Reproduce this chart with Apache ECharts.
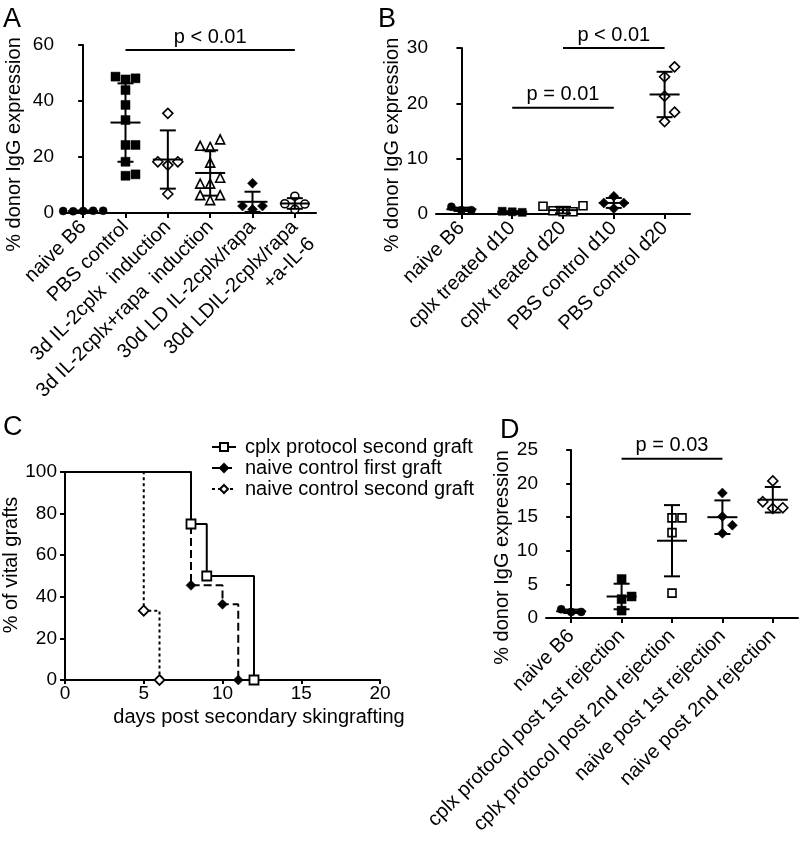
<!DOCTYPE html>
<html><head><meta charset="utf-8">
<script src="https://cdn.jsdelivr.net/npm/echarts@6/dist/echarts.min.js"></script>
<style>html,body{margin:0;padding:0;background:#fff}#chart{width:802px;height:842px}</style>
</head><body><div id="chart"></div>
<script>
// ---------------- Panel A ----------------
const catsA = ['naive B6', 'PBS control', '3d IL-2cplx  induction', '3d IL-2cplx+rapa  induction', '30d LD IL-2cplx/rapa', '30d LDIL-2cplx/rapa\n+a-IL-6'];
const ptsA = [
  [0.7, 0.8, 0.6, 0.8, 0.7],
  [47.7, 48.1, 48.7, 43.9, 38.6, 33.2, 24.3, 24.3, 18.3, 13.3, 13.8],
  [35.6, 17.1, 18.3, 18.3, 6.8],
  [23.6, 26.3, 24.0, 18.0, 10.5, 12.6, 10.5, 4.6, 6.4, 6.4],
  [10.6, 1.3, 2.5, 2.5],
  [6.0, 1.3, 3.2, 3.3]
];
const meanA = [0.7, 32.3, 19.1, 14.3, 4.0, 3.4];
const sdA = [0.2, 14.0, 10.4, 8.1, 3.6, 1.9];
const yTicksA = [0, 20, 40, 60];
const sigA = [{ from: 1, to: 5, y: 58.2, text: 'p < 0.01' }];

// ---------------- Panel B ----------------
const catsB = ['naive B6', 'cplx treated d10', 'cplx treated d20', 'PBS control d10', 'PBS control d20'];
const ptsB = [
  [0.7, 0.7, 1.3],
  [0.4, 0.3, 0.5],
  [0.4, 0.4, 0.6, 1.5, 1.4],
  [3.2, 1.0, 2.0, 2.0],
  [21.3, 24.8, 26.6, 16.7, 18.4]
];
const meanB = [0.85, 0.4, 0.7, 2.0, 21.6];
const sdB = [0.3, 0.1, 0.6, 0.9, 4.1];
const yTicksB = [0, 10, 20, 30];
const sigB = [
  { from: 1, to: 3, y: 19.2, text: 'p = 0.01' },
  { from: 2, to: 4, y: 30.0, text: 'p < 0.01' }
];

// ---------------- Panel C ----------------
const namesC = ['cplx protocol second graft', 'naive control first graft', 'naive control second graft'];
const daysC = [[0, 8, 9, 12], [0, 8, 10, 11], [0, 5, 6]];
const survC = [[100, 75, 50, 0], [100, 45.5, 36.4, 0], [100, 33.3, 0]];
const xTicksC = [0, 5, 10, 15, 20];
const yTicksC = [0, 20, 40, 60, 80, 100];

// ---------------- Panel D ----------------
const catsD = ['naive B6', 'cplx protocol post 1st rejection', 'cplx protocol post 2nd rejection', 'naive post 1st rejection', 'naive post 2nd rejection'];
const ptsD = [
  [0.9, 0.9, 1.3],
  [5.8, 2.8, 1.1, 3.2],
  [14.9, 14.9, 12.7, 3.7],
  [18.6, 15.1, 12.6, 13.8],
  [20.4, 16.3, 16.4, 17.3]
];
const meanD = [1.0, 3.2, 11.5, 15.0, 17.6];
const sdD = [0.25, 1.9, 5.3, 2.5, 1.9];
const yTicksD = [0, 5, 10, 15, 20, 25];
const sigD = [{ from: 1, to: 3, y: 23.7, text: 'p = 0.03' }];

// ---------------- styles ----------------
const FONT = '"Liberation Sans", Arial, Helvetica, sans-serif';
const K = '#000';
const markA = [['circle', 8, true], ['rect', 9, true], ['diamond', 10, false], ['triangle', 9, false], ['diamond', 10, true], ['circle', 8, false]];
const markB = [['circle', 8, true], ['rect', 8, true], ['rect', 8, false], ['diamond', 10, true], ['diamond', 10, false]];
const markD = [['circle', 8, true], ['rect', 9, true], ['rect', 8, false], ['diamond', 10, true], ['diamond', 10, false]];
const markC = [['rect', 9, false], ['diamond', 10, true], ['diamond', 10, false]];
const dashC = ['solid', [8, 4], [3, 3]];

const gridA = { left: 62, top: 45, width: 254, height: 168 };
const gridB = { left: 436, top: 48, width: 254, height: 166 };
const gridC = { left: 65, top: 472, width: 315, height: 208 };
const gridD = { left: 546, top: 450, width: 252, height: 168 };

// beeswarm offsets (in marker steps) derived from values
function beeswarm(vals, pxPerUnit) {
  const placed = [], offs = [];
  const order = [0, 1, -1, 2, -2, 3, -3];
  vals.forEach(v => {
    for (const o of order) {
      if (!placed.some(p => p.o === o && Math.abs(p.v - v) * pxPerUnit < 10.5)) {
        placed.push({ o, v }); offs.push(o); break;
      }
    }
  });
  return offs;
}

const lineSt = { stroke: K, lineWidth: 2 };
function errorBars(params, api) {
  const i = api.value(0), m = api.value(1), s = api.value(2);
  const c = api.coord([i, m]);
  const hi = api.coord([i, m + s]);
  const lo = api.coord([i, Math.max(m - s, 0)]);
  const mw = 15, cw = 8;
  return { type: 'group', children: [
    { type: 'line', shape: { x1: c[0], y1: hi[1], x2: c[0], y2: lo[1] }, style: lineSt },
    { type: 'line', shape: { x1: c[0] - cw, y1: hi[1], x2: c[0] + cw, y2: hi[1] }, style: lineSt },
    { type: 'line', shape: { x1: c[0] - cw, y1: lo[1], x2: c[0] + cw, y2: lo[1] }, style: lineSt },
    { type: 'line', shape: { x1: c[0] - mw, y1: c[1], x2: c[0] + mw, y2: c[1] }, style: lineSt }
  ]};
}
function sigRender(sigs) {
  return function (params, api) {
    const a = api.coord([api.value(0), api.value(2)]);
    const b = api.coord([api.value(1), api.value(2)]);
    return { type: 'group', children: [
      { type: 'line', shape: { x1: a[0], y1: a[1], x2: b[0], y2: b[1] }, style: lineSt },
      { type: 'text', x: (a[0] + b[0]) / 2, y: a[1] - 13,
        style: { text: sigs[params.dataIndex].text, textAlign: 'center', textVerticalAlign: 'middle', fill: K, font: '20px ' + FONT } }
    ]};
  };
}

function dotSeries(xValIdx, yIdx, cats, pts, means, sds, marks, sigs, grid, yTicks) {
  const out = [];
  const band = grid.width / cats.length;
  const pxPerUnit = grid.height / (yTicks[yTicks.length - 1] - yTicks[0]);
  const stepU = 10 / band;
  pts.forEach((vals, i) => {
    const offs = beeswarm(vals, pxPerUnit);
    const [sym, size, filled] = marks[i];
    out.push({ type: 'scatter', xAxisIndex: xValIdx, yAxisIndex: yIdx, symbol: sym, symbolSize: size, silent: true, z: 3,
      itemStyle: { color: filled ? K : '#fff', borderColor: K, borderWidth: filled ? 0.5 : 1.6, opacity: 1 },
      data: vals.map((v, k) => [i + offs[k] * stepU, v]) });
  });
  out.push({ type: 'custom', xAxisIndex: xValIdx, yAxisIndex: yIdx, silent: true, z: 4, clip: false,
    data: means.map((m, i) => [i, m, sds[i]]), encode: { x: 0, y: 1 }, renderItem: errorBars });
  out.push({ type: 'custom', xAxisIndex: xValIdx, yAxisIndex: yIdx, silent: true, z: 4, clip: false,
    data: sigs.map(s => [s.from, s.to, s.y]), encode: { x: [0, 1], y: 2 }, renderItem: sigRender(sigs) });
  return out;
}

const axLine = { show: true, lineStyle: { color: K, width: 2 } };
const axTick = { show: true, length: 5, lineStyle: { color: K, width: 2 } };
function catAxis(gi, cats, margin) {
  return { type: 'category', gridIndex: gi, data: cats, boundaryGap: true,
    axisLine: axLine, axisTick: Object.assign({ alignWithLabel: true }, axTick),
    axisLabel: { rotate: 45, interval: 0, margin: margin, color: K, fontSize: 20, fontFamily: FONT, lineHeight: 24, hideOverlap: false,
      // a two-line label keeps its first line where a one-line label would sit
      formatter: v => (v.indexOf('\n') >= 0 ? ' \n' + v : v) },
    splitLine: { show: false } };
}
function hiddenX(gi, n) { return { type: 'value', gridIndex: gi, min: -0.5, max: n - 0.5, show: false, splitLine: { show: false } }; }
function valY(gi, ticks, name, gap, pad) {
  return { type: 'value', gridIndex: gi, min: ticks[0], max: ticks[ticks.length - 1], interval: ticks[1] - ticks[0],
    name: name, nameLocation: 'middle', nameGap: gap, nameRotate: 90,
    nameTextStyle: { fontSize: 20, color: K, fontFamily: FONT, padding: pad },
    axisLine: axLine, axisTick: axTick,
    axisLabel: { color: K, fontSize: 19, margin: 8, fontFamily: FONT },
    splitLine: { show: false } };
}
function gridOf(g) { return Object.assign({ containLabel: false, outerBoundsMode: 'none' }, g); }

const seriesC = namesC.map((nm, s) => ({
  type: 'line', name: nm, xAxisIndex: 4, yAxisIndex: 2, step: 'end',
  symbol: markC[s][0], symbolSize: markC[s][1], showAllSymbol: true, silent: true, z: 3 - s * 0.1,
  lineStyle: { color: K, width: 2, type: dashC[s] },
  itemStyle: { color: markC[s][2] ? K : '#fff', borderColor: K, borderWidth: markC[s][2] ? 0.5 : 1.8 },
  data: daysC[s].map((d, i) => i === 0 ? { value: [d, survC[s][i]], symbol: 'none' } : { value: [d, survC[s][i]] })
}));

const option = {
  animation: false,
  backgroundColor: '#fff',
  textStyle: { fontFamily: FONT, color: K },
  grid: [gridOf(gridA), gridOf(gridB), gridOf(gridC), gridOf(gridD)],
  xAxis: [
    catAxis(0, catsA, 11), hiddenX(0, catsA.length),
    catAxis(1, catsB, 11), hiddenX(1, catsB.length),
    { type: 'value', gridIndex: 2, min: xTicksC[0], max: xTicksC[xTicksC.length - 1], interval: xTicksC[1] - xTicksC[0],
      name: 'days post secondary skingrafting', nameLocation: 'middle', nameGap: 27,
      nameTextStyle: { fontSize: 20, color: K, fontFamily: FONT, padding: [0, 0, 0, 73] },
      axisLine: axLine, axisTick: Object.assign({}, axTick, { length: 4 }),
      axisLabel: { color: K, fontSize: 19, margin: 4, fontFamily: FONT }, splitLine: { show: false } },
    catAxis(3, catsD, 15), hiddenX(3, catsD.length)
  ],
  yAxis: [
    valY(0, yTicksA, '% donor IgG expression', 38, [0, 31, 0, 0]),
    valY(1, yTicksB, '% donor IgG expression', 34, [0, 28, 0, 0]),
    valY(2, yTicksC, '% of vital grafts', 41, [0, 0, 0, 22]),
    valY(3, yTicksD, '% donor IgG expression', 26, [0, 47, 0, 0])
  ],
  legend: { show: true, orient: 'vertical', left: 206, top: 432, itemWidth: 24, itemHeight: 10, itemGap: 1,
    data: namesC, selectedMode: false,
    textStyle: { fontSize: 20, color: K, fontFamily: FONT, padding: [0, 0, 0, 4] } },
  graphic: [
    { type: 'text', left: 3, top: 6, style: { text: 'A', font: '27px ' + FONT, fill: K } },
    { type: 'text', left: 378, top: 6, style: { text: 'B', font: '27px ' + FONT, fill: K } },
    { type: 'text', left: 3, top: 414, style: { text: 'C', font: '27px ' + FONT, fill: K } },
    { type: 'text', left: 500, top: 417, style: { text: 'D', font: '27px ' + FONT, fill: K } }
  ],
  series: [].concat(
    dotSeries(1, 0, catsA, ptsA, meanA, sdA, markA, sigA, gridA, yTicksA),
    dotSeries(3, 1, catsB, ptsB, meanB, sdB, markB, sigB, gridB, yTicksB),
    seriesC,
    dotSeries(6, 3, catsD, ptsD, meanD, sdD, markD, sigD, gridD, yTicksD)
  )
};

const chart = echarts.init(document.getElementById('chart'), null, { renderer: 'canvas' });
chart.setOption(option);
</script>
</body></html>
